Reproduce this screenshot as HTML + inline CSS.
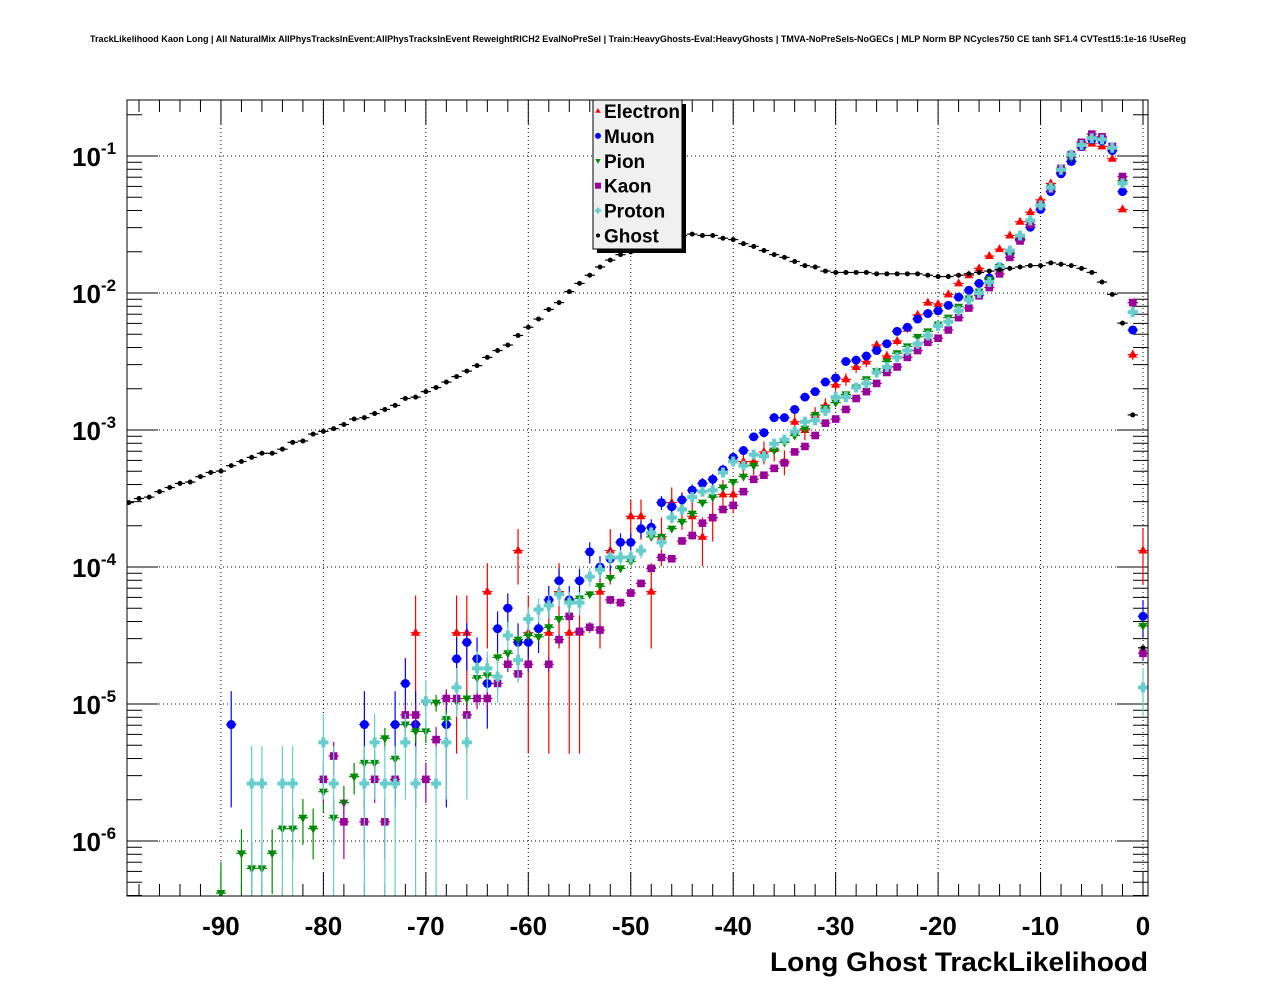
<!DOCTYPE html>
<html><head><meta charset="utf-8"><style>
html,body{margin:0;padding:0;background:#fff;}
svg{display:block;font-family:"Liberation Sans",Arial,sans-serif;}
</style></head><body>
<svg id="chart" width="1276" height="996" viewBox="0 0 1276 996" xmlns="http://www.w3.org/2000/svg">
<rect x="0" y="0" width="1276" height="996" fill="#fff"/>
<text x="90" y="42" font-size="9" font-weight="bold" textLength="1096" lengthAdjust="spacingAndGlyphs">TrackLikelihood Kaon Long | All NaturalMix AllPhysTracksInEvent:AllPhysTracksInEvent ReweightRICH2 EvalNoPreSel | Train:HeavyGhosts-Eval:HeavyGhosts | TMVA-NoPreSels-NoGECs | MLP Norm BP NCycles750 CE tanh SF1.4 CVTest15:1e-16 !UseReg</text>
<defs><clipPath id="frameclip"><rect x="127" y="100" width="1021" height="796"/></clipPath></defs>
<g id="grid"></g>
<g id="axes"></g>
<g id="marks" clip-path="url(#frameclip)"></g>
<rect x="127" y="100" width="1021" height="796" fill="none" stroke="#000" stroke-width="1"/>
<text x="1148" y="971" font-size="27" font-weight="bold" text-anchor="end" textLength="378" lengthAdjust="spacingAndGlyphs">Long Ghost TrackLikelihood</text>
<g id="legend"></g>
</svg>
<script>
const signalCenters = []; for (let k = 0; k <= 90; k++) signalCenters.push(-k);
const ghostCenters = []; for (let c = -99; c <= 0; c++) ghostCenters.push(c);
const xTickLabels = ["-90","-80","-70","-60","-50","-40","-30","-20","-10","0"];
const xTickValues = [-90,-80,-70,-60,-50,-40,-30,-20,-10,0];
const yDecades = [-1,-2,-3,-4,-5,-6];
// log10 of fraction; signal arrays indexed by signalCenters (0, -1, -2, ...)
const electronLog = [-3.88,-2.45,-1.39,-1.02,-0.93,-0.91,-0.94,-1.04,-1.12,-1.20,-1.32,-1.41,-1.48,-1.58,-1.68,-1.73,-1.82,-1.87,-1.93,-2.01,-2.08,-2.07,-2.16,-2.26,-2.35,-2.46,-2.38,-2.50,-2.54,-2.63,-2.67,-2.82,-2.89,-3.00,-2.94,-3.23,-3.14,-3.16,-3.23,-3.23,-3.47,-3.47,-3.64,-3.78,-3.63,-3.57,-3.53,-3.78,-4.18,-3.63,-3.63,null,-3.88,-4.18,null,-4.48,-4.48,-4.18,-4.48,null,-4.48,-3.88,null,null,-4.18,null,-4.48,-4.48,null,null,null,-4.48];
const muonLog = [-4.36,-2.27,-1.26,-0.96,-0.89,-0.88,-0.93,-1.04,-1.13,-1.26,-1.39,-1.52,-1.61,-1.71,-1.81,-1.89,-1.93,-1.98,-2.03,-2.09,-2.13,-2.15,-2.19,-2.25,-2.28,-2.37,-2.42,-2.46,-2.49,-2.50,-2.62,-2.65,-2.72,-2.76,-2.85,-2.91,-2.91,-3.02,-3.05,-3.15,-3.20,-3.29,-3.36,-3.39,-3.44,-3.51,-3.56,-3.53,-3.71,-3.72,-3.82,-3.82,-3.94,-4.00,-3.89,-4.10,-4.24,-4.10,-4.24,-4.45,-4.55,-4.55,-4.30,-4.45,-4.85,-4.67,-4.55,-4.67,-5.15,null,null,-5.15,-4.85,-5.15,null,null,-5.15,null,null,null,null,null,null,null,null,null,null,null,null,-5.15];
const pionLog = [-4.43,-2.07,-1.18,-0.93,-0.87,-0.86,-0.91,-1.01,-1.10,-1.23,-1.36,-1.48,-1.60,-1.71,-1.81,-1.90,-1.99,-2.04,-2.10,-2.18,-2.23,-2.28,-2.32,-2.39,-2.44,-2.50,-2.57,-2.63,-2.69,-2.74,-2.80,-2.84,-2.89,-2.99,-3.04,-3.09,-3.15,-3.20,-3.26,-3.34,-3.38,-3.42,-3.49,-3.53,-3.61,-3.67,-3.72,-3.78,-3.78,-3.89,-3.96,-4.01,-4.08,-4.14,-4.20,-4.23,-4.26,-4.38,-4.44,-4.51,-4.50,-4.53,-4.63,-4.66,-4.79,-4.81,-4.96,-4.98,-5.11,-4.99,-5.20,-5.20,-5.15,-5.40,-5.25,-5.43,-5.43,-5.53,-5.72,-5.83,-5.64,-5.91,-5.83,-5.91,-5.91,-6.09,-6.20,-6.20,-6.09,null,-6.38];
const kaonLog = [-4.63,-2.07,-1.15,-0.93,-0.86,-0.84,-0.90,-0.99,-1.09,-1.24,-1.36,-1.50,-1.62,-1.74,-1.86,-1.96,-2.02,-2.11,-2.18,-2.27,-2.33,-2.36,-2.42,-2.47,-2.54,-2.58,-2.66,-2.72,-2.77,-2.85,-2.92,-2.95,-3.04,-3.12,-3.16,-3.24,-3.28,-3.33,-3.36,-3.45,-3.55,-3.58,-3.64,-3.68,-3.77,-3.81,-3.94,-3.93,-4.01,-4.12,-4.19,-4.26,-4.24,-4.46,-4.44,-4.47,-4.36,-4.53,-4.71,null,-4.71,-4.78,-4.71,-4.85,-4.96,-4.96,-5.08,-4.96,-4.96,-5.26,-5.55,-5.08,-5.08,-5.55,-5.86,-5.55,-5.86,null,-5.86,-5.38,-5.55];
const protonLog = [-4.88,-2.14,-1.20,-0.94,-0.88,-0.87,-0.92,-0.99,-1.10,-1.23,-1.36,-1.47,-1.58,-1.69,-1.81,-1.92,-2.00,-2.05,-2.13,-2.21,-2.24,-2.31,-2.37,-2.42,-2.47,-2.54,-2.58,-2.66,-2.69,-2.76,-2.76,-2.86,-2.93,-2.94,-3.01,-3.07,-3.10,-3.19,-3.18,-3.26,-3.23,-3.31,-3.44,-3.45,-3.49,-3.58,-3.64,-3.82,-3.75,-3.88,-3.93,-3.93,-3.93,-4.02,-4.07,-4.26,-4.26,-4.20,-4.28,-4.31,-4.38,-4.68,-4.50,-4.80,-4.74,-4.74,-5.28,-4.88,-5.28,-5.58,-4.98,-5.58,-5.28,-5.58,-5.58,-5.28,-5.58,null,null,-5.58,-5.28,null,null,-5.58,-5.58,null,-5.58,-5.58];
// ghost indexed by ghostCenters (-99 ... 0)
const ghostLog = [-3.53,-3.50,-3.49,-3.45,-3.42,-3.39,-3.38,-3.34,-3.31,-3.30,-3.26,-3.23,-3.20,-3.17,-3.17,-3.14,-3.09,-3.08,-3.03,-3.01,-2.99,-2.96,-2.92,-2.91,-2.88,-2.85,-2.82,-2.77,-2.76,-2.72,-2.69,-2.65,-2.61,-2.57,-2.53,-2.47,-2.42,-2.38,-2.31,-2.25,-2.19,-2.12,-2.07,-1.99,-1.93,-1.87,-1.81,-1.76,-1.72,-1.70,-1.67,-1.64,-1.62,-1.60,-1.58,-1.57,-1.58,-1.58,-1.60,-1.61,-1.64,-1.66,-1.69,-1.72,-1.74,-1.77,-1.80,-1.81,-1.84,-1.85,-1.85,-1.85,-1.85,-1.86,-1.86,-1.86,-1.86,-1.86,-1.87,-1.88,-1.88,-1.87,-1.86,-1.85,-1.84,-1.83,-1.82,-1.81,-1.80,-1.80,-1.78,-1.79,-1.80,-1.82,-1.85,-1.92,-2.01,-2.22,-2.89,-4.59];

const NS = "http://www.w3.org/2000/svg";
const X0 = 127, X1 = 1148, Y0 = 100, Y1 = 896;
const xMin = (127-1143)/10.245, xMax = (1148-1143)/10.245;
const lMax = -1 + 56/137, lMin = -6 - 55/137;
function xs(v){ return X0 + (v - xMin)/(xMax - xMin)*(X1 - X0); }
function ys(l){ return Y0 + (lMax - l)/(lMax - lMin)*(Y1 - Y0); }
function mk(tag, attrs, parent){ const e = document.createElementNS(NS, tag); for (const k in attrs) e.setAttribute(k, attrs[k]); parent.appendChild(e); return e; }

const grid = document.getElementById('grid'), axes = document.getElementById('axes'), marks = document.getElementById('marks'), legend = document.getElementById('legend');
xTickValues.forEach(v => { const l = mk('line', {x1: xs(v), x2: xs(v), y1: Y0, y2: Y1, stroke: '#000', 'stroke-width': 1, 'stroke-dasharray': '1,3'}, grid);
  
   });
yDecades.forEach(d => { const l = mk('line', {x1: X0, x2: X1, y1: ys(d), y2: ys(d), stroke: '#000', 'stroke-width': 1, 'stroke-dasharray': '1,3'}, grid);
  
   });
for (let v = -98; v <= 0; v += 2) {
  const major = v % 10 === 0; const len = major ? 24 : 12;
  const t1 = mk('line', {x1: xs(v), x2: xs(v), y1: Y1, y2: Y1 - len, stroke: '#000', 'stroke-width': 1}, axes);
  
  
  const t2 = mk('line', {x1: xs(v), x2: xs(v), y1: Y0, y2: Y0 + len, stroke: '#000', 'stroke-width': 1}, axes);
  
  
}
xTickValues.forEach((v, i) => { const t = mk('text', {x: xs(v), y: 935, 'font-size': 26, 'font-weight': 'bold', 'text-anchor': 'middle'}, axes);
  t.textContent = xTickLabels[i];
  
   });
for (let d = -7; d <= 0; d++) {
  for (let m = 1; m <= 9; m++) {
    const l = d + Math.log10(m); if (l < lMin || l > lMax) continue;
    const len = m === 1 ? 31 : 15;
    const a = mk('line', {x1: X0, x2: X0 + len, y1: ys(l), y2: ys(l), stroke: '#000', 'stroke-width': 1}, axes);
    
    
    const b = mk('line', {x1: X1, x2: X1 - len, y1: ys(l), y2: ys(l), stroke: '#000', 'stroke-width': 1}, axes);
    
    
  }
}
yDecades.forEach(d => { const t = mk('text', {x: 72, y: ys(d) + 10, 'font-size': 26, 'font-weight': 'bold'}, axes);
  
  
  t.appendChild(document.createTextNode('10'));
  const s = mk('tspan', {dy: -12, 'font-size': 17}, t); s.textContent = String(d); });

function marker(type, cx, cy, color, sz, parent){
  let e;
  if (type === 'tri') e = mk('polygon', {points: `${cx},${cy-sz} ${cx-sz*0.9},${cy+sz*0.6} ${cx+sz*0.9},${cy+sz*0.6}`, fill: color}, parent);
  else if (type === 'itri') e = mk('polygon', {points: `${cx},${cy+sz} ${cx-sz*0.9},${cy-sz*0.6} ${cx+sz*0.9},${cy-sz*0.6}`, fill: color}, parent);
  else if (type === 'circ') e = mk('circle', {cx: cx, cy: cy, r: sz, fill: color}, parent);
  else if (type === 'sq') e = mk('rect', {x: cx-sz, y: cy-sz, width: 2*sz, height: 2*sz, fill: color}, parent);
  else if (type === 'cross') { const w = sz*0.4; e = mk('polygon', {points: `${cx-w},${cy-sz} ${cx+w},${cy-sz} ${cx+w},${cy-w} ${cx+sz},${cy-w} ${cx+sz},${cy+w} ${cx+w},${cy+w} ${cx+w},${cy+sz} ${cx-w},${cy+sz} ${cx-w},${cy+w} ${cx-sz},${cy+w} ${cx-sz},${cy-w} ${cx-w},${cy-w}`, fill: color}, parent); }
  else e = mk('circle', {cx: cx, cy: cy, r: sz, fill: color}, parent);
  return e;
}
const series = [
  {name: 'electron', label: 'Electron', vals: electronLog, centers: signalCenters, color: '#ff0000', type: 'tri', sz: 5, v0: 2.5e-5},
  {name: 'muon', label: 'Muon', vals: muonLog, centers: signalCenters, color: '#0000ff', type: 'circ', sz: 4.5, v0: 4e-6},
  {name: 'pion', label: 'Pion', vals: pionLog, centers: signalCenters, color: '#008800', type: 'itri', sz: 5, v0: 2e-7},
  {name: 'kaon', label: 'Kaon', vals: kaonLog, centers: signalCenters, color: '#990099', type: 'sq', sz: 3.8, v0: 3e-7},
  {name: 'proton', label: 'Proton', vals: protonLog, centers: signalCenters, color: '#66cccc', type: 'cross', sz: 5, v0: 2e-6},
  {name: 'ghost', label: 'Ghost', vals: ghostLog, centers: ghostCenters, color: '#000000', type: 'dot', sz: 2.5, v0: 1e-8}
];
series.forEach(s => {
  const g = mk('g', {}, marks);
  
  
  s.vals.forEach((l, i) => {
    if (l === null || l === undefined) return;
    const c = s.centers[i]; const v = Math.pow(10, l);
    const err = Math.sqrt(v * s.v0);
    const cx = xs(c), cy = ys(l);
    const yTop = ys(Math.log10(v + err));
    const yBot = (v - err) > 0 ? ys(Math.log10(v - err)) : Y1 + 5;
    const eb = mk('line', {x1: cx, x2: cx, y1: yTop, y2: yBot, stroke: s.color, 'stroke-width': 1.2}, g);
    
    
    const hb = mk('line', {x1: xs(c - 0.5), x2: xs(c + 0.5), y1: cy, y2: cy, stroke: s.color, 'stroke-width': 1.2}, g);
    
    
    const m = marker(s.type, cx, cy, s.color, s.sz, g);
    
    
  });
});
const sh1 = mk('rect', {x: 597, y: 104, width: 89, height: 149, fill: '#000'}, legend);


const lb = mk('rect', {x: 593, y: 100, width: 89, height: 149, fill: '#f0f0f0', stroke: '#000', 'stroke-width': 1}, legend);


series.forEach((s, i) => {
  const cy = 111 + i * 24.9;
  const g = mk('g', {}, legend);
  
  
  const m = marker(s.type, 598, cy, s.color, s.type === 'dot' ? 2 : 3, g);
  
  
  const t = mk('text', {x: 604, y: cy + 7, 'font-size': 19, 'font-weight': 'bold'}, g);
  t.textContent = s.label;
  
  
});
</script>
</body></html>
